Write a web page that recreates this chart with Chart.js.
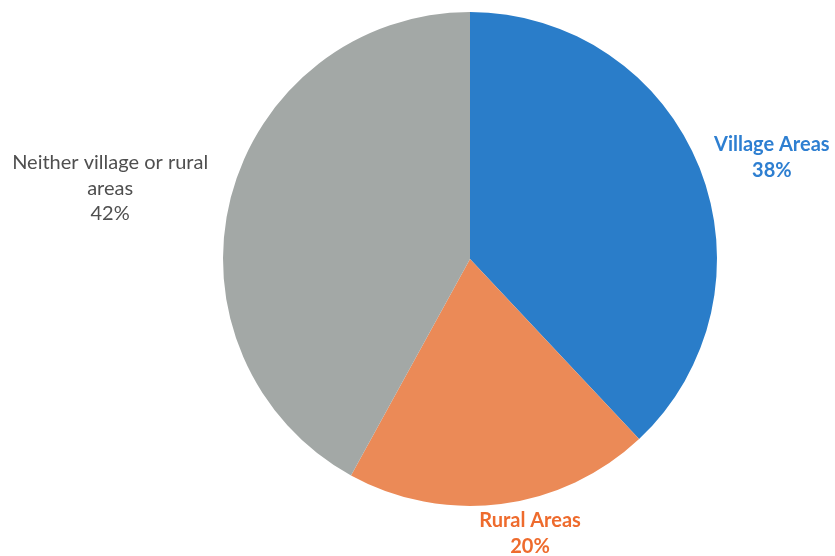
<!DOCTYPE html>
<html>
<head>
<meta charset="utf-8">
<script src="https://cdn.jsdelivr.net/npm/chart.js@4"></script>
<style>
  html, body { margin: 0; padding: 0; background: #ffffff; }
  #wrap { width: 835px; height: 556px; position: relative; }
</style>
</head>
<body>
<div id="wrap"><canvas id="c" width="835" height="556"></canvas></div>
<script>
// Share of respondents by type of area
const categories = ['Village Areas', 'Rural Areas', 'Neither village or rural areas'];
const shares = [38, 20, 42];
// Multi-line label text for each slice
const labelLines = [['Village Areas'], ['Rural Areas'], ['Neither village or rural', 'areas']];

const sliceColors = ['#2A7DC9', '#EB8A57', '#A3A8A6'];
const labelColors = ['#2E7FD1', '#EE6B2D', '#4F4F4F'];
const labelWeights = ['bold', 'bold', 'normal'];
// label anchor, in units of the pie radius, relative to the pie centre
const labelAnchors = [[1.222, -0.41], [0.243, 1.111], [-1.457, -0.287]];

const outsideLabels = {
  id: 'outsideLabels',
  afterDatasetsDraw(chart) {
    const ctx = chart.ctx;
    const meta = chart.getDatasetMeta(0);
    const data = chart.data.datasets[0].data;
    ctx.save();
    ctx.textAlign = 'center';
    ctx.textBaseline = 'middle';
    meta.data.forEach((arc, i) => {
      const r = arc.outerRadius;
      const cx = arc.x + labelAnchors[i][0] * r;
      const cy = arc.y + labelAnchors[i][1] * r;
      const lines = labelLines[i].concat([data[i] + '%']);
      const lh = 25.5;
      const y0 = cy - (lines.length - 1) * lh / 2;
      ctx.fillStyle = labelColors[i];
      ctx.font = labelWeights[i] + ' 20px Lato, "Open Sans", sans-serif';
      lines.forEach((t, k) => ctx.fillText(t, cx, y0 + k * lh));
    });
    ctx.restore();
  }
};

new Chart(document.getElementById('c'), {
  type: 'pie',
  data: {
    labels: categories,
    datasets: [{
      data: shares,
      backgroundColor: sliceColors,
      borderWidth: 0,
      hoverOffset: 0
    }]
  },
  options: {
    responsive: false,
    animation: false,
    events: [],
    layout: { padding: { left: 223, right: 118, top: 12, bottom: 50 } },
    plugins: {
      legend: { display: false },
      tooltip: { enabled: false }
    }
  },
  plugins: [outsideLabels]
});
</script>
</body>
</html>
